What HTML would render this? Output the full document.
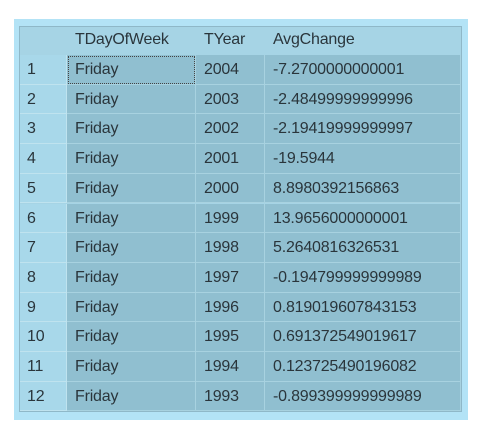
<!DOCTYPE html>
<html><head><meta charset="utf-8"><style>
body{margin:0;width:484px;height:437px;background:#fff;position:relative;overflow:hidden;font-family:"Liberation Sans",sans-serif;}
#frame{position:absolute;left:14px;top:19px;width:454px;height:401px;background:#b3e3f6;}
#grid{position:absolute;left:19px;top:26px;width:443px;height:386px;background:#a6d4e5;border:1px solid #8fb8c8;box-sizing:border-box;}
.c{position:absolute;box-sizing:border-box;font-size:16px;color:#2a353b;line-height:29.7px;padding-left:8px;white-space:nowrap;letter-spacing:-0.2px;}
.hd{line-height:28px;}
.sel{background:#90bfd0;border-bottom:1px solid #a8d2e0;border-right:1px solid #a8d2e0;}
.num{background:#a8d8ea;border-bottom:1px solid #bfe3ef;border-right:1px solid #bfe3ef;padding-left:7px;}
</style></head><body>
<div id="frame"></div>
<div id="grid"></div>
<div class="c hd" style="left:67px;top:26px;width:129px;height:29px">TDayOfWeek</div>
<div class="c hd" style="left:196px;top:26px;width:69px;height:29px">TYear</div>
<div class="c hd" style="left:265px;top:26px;width:196px;height:29px">AvgChange</div>
<div id="rows"></div>
<script>
const years=[2004,2003,2002,2001,2000,1999,1998,1997,1996,1995,1994,1993];
const vals=["-7.2700000000001","-2.48499999999996","-2.19419999999997","-19.5944","8.8980392156863","13.9656000000001","5.2640816326531","-0.194799999999989","0.819019607843153","0.691372549019617","0.123725490196082","-0.899399999999989"];
const rows=document.getElementById('rows');
const cols=[[20,47],[67,129],[196,69],[265,196]];
years.forEach((y,i)=>{
  const top=55+i*29.7;
  const texts=[String(i+1),'Friday',String(y),vals[i]];
  texts.forEach((t,j)=>{
    const d=document.createElement('div');
    d.className='c '+(j===0?'num':'sel');
    d.style.left=cols[j][0]+'px';d.style.top=top+'px';d.style.width=cols[j][1]+'px';d.style.height='29.7px';
    if(i===0&&j===1){d.style.outline='1px dotted #444';d.style.outlineOffset='-2px';}
    d.textContent=t;
    
    
    rows.appendChild(d);
  });
});
</script>
</body></html>
